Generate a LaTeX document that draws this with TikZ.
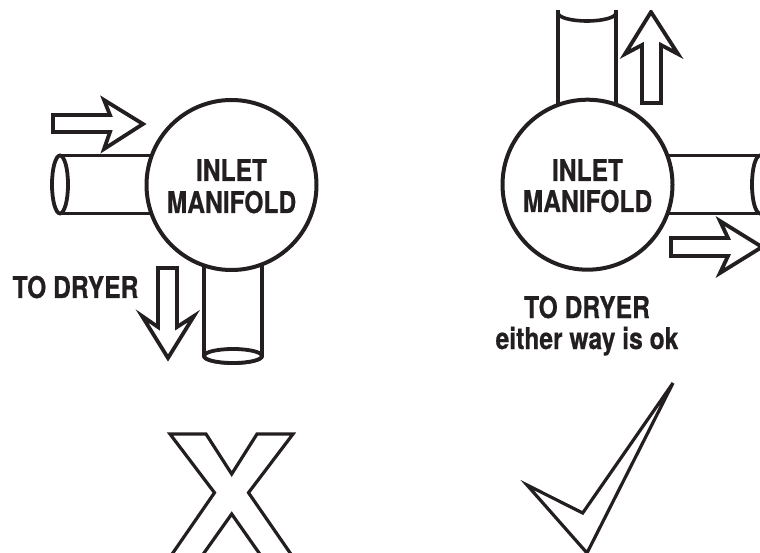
\documentclass[tikz,border=0pt]{standalone}
\usepackage{fontspec}
\setmainfont{TeX Gyre Heros}[FakeStretch=0.82,BoldFeatures={FakeBold=0.6}]
\definecolor{ink}{HTML}{231F20}
\tikzset{
  part/.style={draw=ink,line width=3.8pt,line join=miter,miter limit=10,fill=white},
  thinpart/.style={draw=ink,line width=3.2pt,line join=miter,miter limit=10},
  manifold/.style={circle,draw=ink,line width=4pt,fill=white,minimum size=170pt,inner sep=0pt},
  lbl/.style={text=ink,font=\bfseries\fontsize{30}{32}\selectfont,align=center,inner sep=0pt}
}
\begin{document}
\begin{tikzpicture}[x=1pt,y=-1pt]
\useasboundingbox (0,0) rectangle (760,553);
\clip (0,0) rectangle (760,553);
% left
\draw[part] (60,155.5) -- (160,155.5) -- (160,213.5) -- (60,213.5);
\draw[part] (60,184.5) ellipse [x radius=8,y radius=29];
\draw[part] (204,250) -- (204,356) arc [start angle=180,end angle=0,x radius=29,y radius=7] -- (262,250);
\draw[part] (233,356) ellipse [x radius=29,y radius=7];
\node[manifold] (m1) at (231.5,185) {};
\node[lbl,anchor=base] (t1) at (231.5,181) {INLET};
\node[lbl,anchor=base] (t2) at (231.5,213) {MANIFOLD};
\draw[part] (53,115) -- (110,115) -- (104,100) -- (143,124) -- (104,149) -- (110,132) -- (53,132) -- cycle;
\draw[part] (158,268) -- (177,268) -- (177,327) -- (194,316) -- (168,358) -- (142,316) -- (158,327) -- cycle;
\node[lbl,anchor=base] (t3) at (75.5,298) {TO DRYER};
% right
\begin{scope}
\clip (460,11) rectangle (760,553);
\draw[part] (558,0) -- (558,150) -- (616,150) -- (616,0);
\draw[draw=ink,line width=3.6pt] (558,13) arc [start angle=180,end angle=0,x radius=29,y radius=8];
\draw[part] (642,103) -- (661,103) -- (661,45) -- (678,54) -- (651,12) -- (625,54) -- (642,45) -- cycle;
\end{scope}
\draw[part] (640,155.5) -- (770,155.5) -- (770,213.5) -- (640,213.5);
\draw[part] (760,184.5) ellipse [x radius=8,y radius=29];
\node[manifold] (m2) at (587.5,184.7) {};
\node[lbl,anchor=base] (t4) at (587.5,181) {INLET};
\node[lbl,anchor=base] (t5) at (587.5,212) {MANIFOLD};
\draw[part] (671,238) -- (728,238) -- (720,221) -- (762,247) -- (720,273) -- (728,256) -- (671,256) -- cycle;
\node[lbl,anchor=base] (t6) at (587,318) {TO DRYER};
\node[lbl,anchor=base] (t7) at (587,349) {either way is ok};
% cross
\draw[thinpart] (168,560) -- (214.5,492.7) -- (170,434) -- (206,434) -- (231.7,474) -- (257,434) -- (293,434) -- (248.5,492.7) -- (295,560);
\draw[thinpart] (199,560) -- (231.7,514) -- (264,560);
% tick
\draw[thinpart] (673,383) -- (582.7,513) -- (527,485) -- (587,553) -- cycle;
\end{tikzpicture}
\end{document}
